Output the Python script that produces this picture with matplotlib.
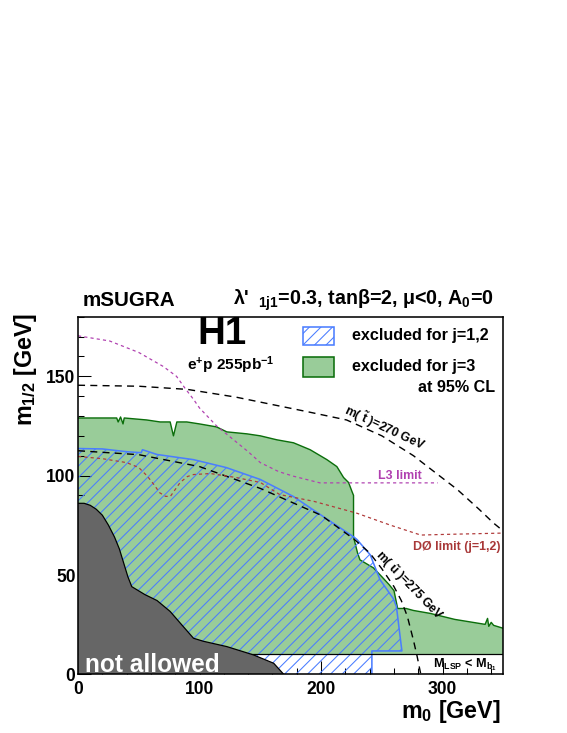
import numpy as np
import matplotlib.pyplot as plt
from matplotlib.patches import Polygon, Rectangle
from matplotlib.collections import LineCollection
from matplotlib.ticker import MultipleLocator

plt.rcParams['font.family'] = ['Liberation Sans', 'DejaVu Sans']
plt.rcParams['font.weight'] = 'bold'
plt.rcParams['mathtext.fontset'] = 'custom'
plt.rcParams['mathtext.rm'] = 'Liberation Sans:bold'
plt.rcParams['mathtext.bf'] = 'Liberation Sans:bold'
plt.rcParams['mathtext.it'] = 'Liberation Sans:bold:italic'
plt.rcParams['mathtext.default'] = 'bf'
plt.rcParams['lines.scale_dashes'] = False

# excluded region for j=3 (upper edge)
j3_m0 = [0, 31.8, 33, 35, 37, 38, 56.5, 67.5, 75.8, 78.5, 81.3, 89.5, 100, 114, 122.4, 139, 150,
         163.6, 177.3, 191, 204.8, 213, 218.5, 222.6, 225.4, 226.7, 226.7, 230, 232, 243, 250, 256,
         260, 263, 270, 276, 290, 300, 310, 320, 330, 335, 337, 338, 340, 342, 350]
j3_m12 = [129, 129, 127, 129.5, 126, 129, 128, 127, 127, 120, 127, 127, 126, 124.5, 122, 121, 120,
          118, 116.5, 113, 108, 104.5, 99, 96.5, 92, 90, 69, 61, 57.5, 53.5, 49, 45,
          42, 33, 33, 32, 30.5, 29, 27.5, 26.5, 25.5, 25, 28, 24, 26, 24.5, 23]

# excluded region for j=1,2 (upper edge)
j12_m0 = [0, 20, 40, 52, 53, 65, 95, 122, 150, 177, 205, 227, 229.6, 240.5, 243, 248.5, 259.4,
          262, 265, 266.5, 241.8, 241.8]
j12_m12 = [113.6, 113.4, 112, 111.5, 113, 110.6, 108, 104, 98, 89.5, 78, 69, 67.7, 60, 56, 47.5, 38,
           34, 19, 11.6, 11.6, 0]

# theoretically not allowed region
na_m0 = [0, 5, 10, 15, 20, 25, 30, 34, 38, 41, 44.2, 55, 65, 75.8, 85, 95, 103, 122.4, 144.4,
         161, 169]
na_m12 = [86, 86, 85, 83, 80, 75, 69, 63, 55, 49, 44, 40, 37, 31.5, 25, 18, 16.5, 13.8, 9.6,
          5.4, 0]

# m(stop) = 270 GeV
st_m0 = [0, 50, 90, 130, 166, 190, 221, 250, 276, 295, 312, 330, 342, 350]
st_m12 = [145.5, 145, 143.4, 139.5, 135, 132, 128, 120, 110, 101, 93, 83, 76, 72]

# m(sup) = 275 GeV
su_m0 = [0, 50, 100, 150, 200, 227, 240, 250, 260, 266, 271, 276, 279, 282]
su_m12 = [112.5, 110.5, 104.5, 93.5, 80, 68, 61, 53, 44, 37, 29, 17, 9, 0]

# L3 limit
l3_m0 = [0, 26, 50, 70, 81, 88, 95, 100, 114, 128, 140, 150, 165, 177, 199, 296]
l3_m12 = [170.4, 167.8, 162, 155, 150, 144, 138.4, 134, 125, 118, 112, 106.5, 102, 99.7, 96.3, 96.3]

# D0 limit
d0_m0 = [0, 20, 40, 50, 57, 63, 67, 72, 76, 80, 84, 90, 95, 109, 130, 150, 166, 194, 229.5,
         257, 282, 300, 350]
d0_m12 = [109.6, 108.5, 106.5, 104, 99.7, 95, 91.4, 89.5, 89.5, 93, 96.5, 99.5, 100.5, 101, 99,
          96.5, 90.4, 87, 81, 75, 70, 70.3, 71]

mlsp_mb = 10

green = '#99cc99'
dgreen = '#0b6e0b'
blue = '#4a7dff'

W, H = 425, 357   # axes size in pixels
fig = plt.figure(figsize=(567.4 / 126, 733.4 / 126), dpi=126)
ax = fig.add_axes([78 / 567, 1 - 674 / 733, W / 567, H / 733])
ax.set_xlim(0, 350)
ax.set_ylim(0, 180)


def add_hatch(patch, trans, sx, sy, step=11.5):
    # 45 degree lines (in pixels) clipped to patch; sx, sy = pixels per unit of trans
    offs = np.arange(-H, W + step, step)
    segs = [[(c / sx, 0), ((c + H) / sx, H / sy)] for c in offs]
    lc = LineCollection(segs, colors=blue, linewidths=0.6, zorder=patch.get_zorder(),
                        transform=trans)
    ax.add_collection(lc, autolim=False)
    lc.set_clip_path(patch)


# j=3 region
g_pts = list(zip(j3_m0, j3_m12)) + [(j3_m0[-1], mlsp_mb), (0, mlsp_mb)]
ax.add_patch(Polygon(g_pts, closed=True, facecolor=green, edgecolor='none', zorder=1))
ax.plot(j3_m0, j3_m12, color=dgreen, lw=0.8, zorder=1.5)

# j=1,2 region
b_pts = list(zip(j12_m0, j12_m12)) + [(0, 0)]
bpatch = Polygon(b_pts, closed=True, facecolor='none', edgecolor='none', lw=0, zorder=2)
ax.add_patch(bpatch)
add_hatch(bpatch, ax.transData, W / 350, H / 180)
ax.plot(j12_m0, j12_m12, color=blue, lw=0.9, zorder=2.5)

ax.axhline(mlsp_mb, color='k', lw=0.7, zorder=2.6)

# not allowed
n_pts = list(zip(na_m0, na_m12)) + [(0, 0)]
ax.add_patch(Polygon(n_pts, closed=True, facecolor='#666666', edgecolor='none', zorder=3))
ax.plot(na_m0, na_m12, color='k', lw=0.7, zorder=3.1)

# limit curves
ax.plot(st_m0, st_m12, color='k', lw=0.8, dashes=(4, 3), zorder=4)
ax.plot(su_m0, su_m12, color='k', lw=0.8, dashes=(4, 3), zorder=4)
ax.plot(l3_m0, l3_m12, color='#b040b0', lw=0.7, dashes=(1.8, 1.8), zorder=4)
ax.plot(d0_m0, d0_m12, color='#b03a3a', lw=0.7, dashes=(1.8, 1.8), zorder=4)

# axes style
for s in ax.spines.values():
    s.set_linewidth(0.9)
    s.set_zorder(5)
ax.set_xticks([0, 100, 200, 300])
ax.set_yticks([0, 50, 100, 150])
ax.xaxis.set_minor_locator(MultipleLocator(20))
ax.yaxis.set_minor_locator(MultipleLocator(10))
ax.tick_params(which='both', direction='in', width=0.6, labelsize=10, zorder=5)
ax.tick_params(which='major', length=7.4)
ax.tick_params(which='minor', length=3.7)
ax.tick_params(axis='x', pad=4)
ax.tick_params(axis='y', pad=1.5)

# labels
fig.text(25 / 567, 1 - 313 / 733, r'm$_{1/2}$ [GeV]', rotation=90, ha='center', va='top',
         fontsize=13.3)
fig.text(500 / 567, 1 - 711 / 733, r'm$_0$ [GeV]', ha='right', va='center', fontsize=13.3)
fig.text(83 / 567, 1 - 300 / 733, 'mSUGRA', ha='left', va='center', fontsize=11.8)
fig.text(493 / 567, 1 - 300 / 733, r"λ' $_{\ \mathbf{1j1}}$=0.3, tanβ=2, μ<0, A$_\mathbf{0}$=0",
         ha='right', va='center', fontsize=11.2)

ax.text(0.339, 0.952, 'H1', transform=ax.transAxes, ha='center', va='center', fontsize=22,
        zorder=6)
ax.text(0.358, 0.866, r'e$^{+}$p 255pb$^{-1}$', transform=ax.transAxes, ha='center',
        va='center', fontsize=8.8, zorder=6)

leg_box = Rectangle((0.529, 0.9216), 0.073, 0.0504, transform=ax.transAxes,
                    facecolor='white', edgecolor=blue, lw=0.9, zorder=6)
ax.add_patch(leg_box)
add_hatch(leg_box, ax.transAxes, W, H)
ax.add_patch(Rectangle((0.529, 0.832), 0.073, 0.056, transform=ax.transAxes,
                       facecolor=green, edgecolor=dgreen, lw=0.9, zorder=6))
ax.text(0.645, 0.9496, 'excluded for j=1,2', transform=ax.transAxes, ha='left', va='center',
        fontsize=9.2, zorder=6)
ax.text(0.645, 0.8627, 'excluded for j=3', transform=ax.transAxes, ha='left', va='center',
        fontsize=9.2, zorder=6)
ax.text(0.981, 0.804, 'at 95% CL', transform=ax.transAxes, ha='right', va='center',
        fontsize=9.2, zorder=6)

ax.text(252, 124.5, r'm( $\tilde{\mathbf{t}}$ )=270 GeV', rotation=-25, ha='center', va='center',
        fontsize=7, zorder=6)
ax.text(272, 45, r'm( $\tilde{\mathbf{u}}$ )=275 GeV', rotation=-46, ha='center', va='center',
        fontsize=7, zorder=6)
ax.text(265, 100, 'L3 limit', color='#b040b0', ha='center', va='center', fontsize=7.1, zorder=6)
ax.text(348, 64, 'DØ limit (j=1,2)', color='#a83838', ha='right', va='center', fontsize=7.1,
        zorder=6)
ax.text(6, 4.5, 'not allowed', color='white', ha='left', va='center', fontsize=14, zorder=6)
ax.text(292, 5, r'M$_{\mathbf{LSP}}$ < M$_{\mathbf{b_1}}$', ha='left', va='center', fontsize=7.2,
        zorder=6)

fig.savefig('out.png', dpi=126)
